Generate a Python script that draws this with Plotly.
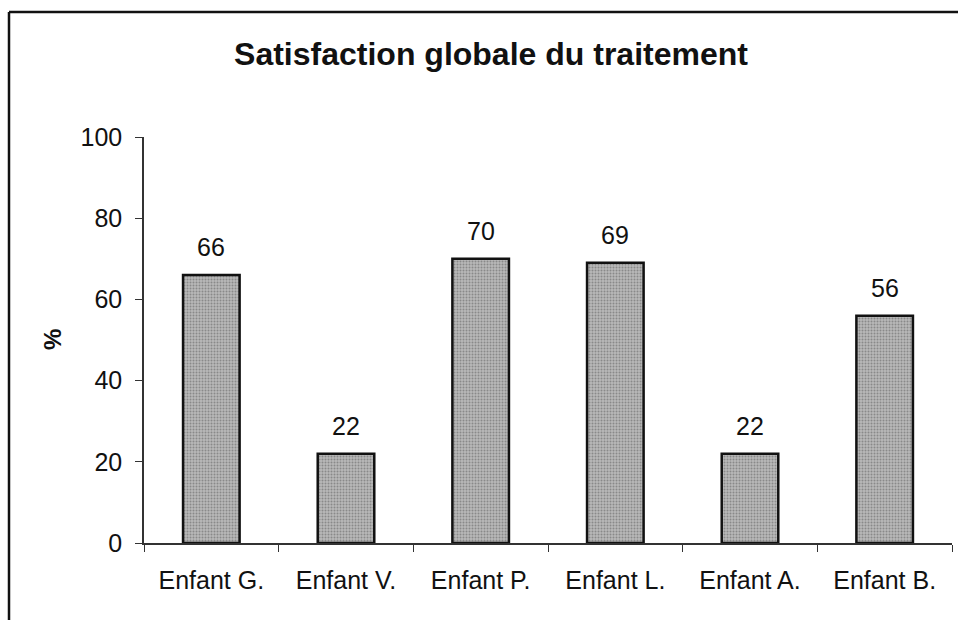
import plotly.graph_objects as go

# Satisfaction scores per child (%)
enfants = ["Enfant G.", "Enfant V.", "Enfant P.", "Enfant L.", "Enfant A.", "Enfant B."]
satisfaction = [66, 22, 70, 69, 22, 56]
y_ticks = [0, 20, 40, 60, 80, 100]

W, H = 958, 620
ML, MR, MT, MB = 144, 6, 137, 77
PW, PH = W - ML - MR, H - MT - MB

FONT = "Liberation Sans, Arial, sans-serif"
INK = "#111111"

fig = go.Figure(
    go.Bar(
        x=enfants,
        y=satisfaction,
        width=0.42,
        marker=dict(
            color="#a4a4a4",
            line=dict(color=INK, width=2.5),
            pattern=dict(shape=".", fgcolor="#5a5a5a", bgcolor="#b8b8b8", size=3, solidity=0.35),
        ),
        hoverinfo="skip",
    )
)

# Value labels above each bar
for name, val in zip(enfants, satisfaction):
    fig.add_annotation(
        x=name, y=val, text=str(val), showarrow=False,
        xanchor="center", yanchor="bottom", yshift=12,
        font=dict(family=FONT, size=25, color=INK),
    )


def px_x(px):
    return (px - ML) / PW


def px_y(py):
    return (H - MB - py) / PH


# Frame lines around the chart area (left and top edges)
fig.add_shape(type="line", xref="paper", yref="paper",
              x0=px_x(9), x1=px_x(9), y0=px_y(12), y1=px_y(620),
              line=dict(color=INK, width=2.5))
fig.add_shape(type="line", xref="paper", yref="paper",
              x0=px_x(9), x1=px_x(958), y0=px_y(12), y1=px_y(12),
              line=dict(color=INK, width=2.5))

# Rotated y-axis title
fig.add_annotation(
    xref="paper", yref="paper", x=px_x(52), y=0.5, text="<b>%</b>",
    textangle=-90, showarrow=False, xanchor="center", yanchor="middle",
    font=dict(family=FONT, size=24, color=INK),
)

fig.update_layout(
    width=W,
    height=H,
    margin=dict(l=ML, r=MR, t=MT, b=MB),
    paper_bgcolor="white",
    plot_bgcolor="white",
    showlegend=False,
    font=dict(family=FONT, color=INK),
    title=dict(
        text="<b>Satisfaction globale du traitement</b>",
        font=dict(family=FONT, size=32, color=INK),
        x=491 / W,
        xanchor="center",
        y=1 - 54 / H,
        yanchor="middle",
    ),
    xaxis=dict(
        showgrid=False,
        showline=True,
        linecolor="#333333",
        linewidth=1.5,
        ticks="outside",
        tickson="boundaries",
        ticklen=7,
        tickcolor="#333333",
        ticklabelstandoff=14,
        tickfont=dict(family=FONT, size=25, color=INK),
        fixedrange=True,
    ),
    yaxis=dict(
        range=[0, 100],
        tickvals=y_ticks,
        showgrid=False,
        zeroline=False,
        showline=True,
        linecolor="#333333",
        linewidth=1.5,
        ticks="outside",
        ticklen=7,
        tickcolor="#333333",
        ticklabelstandoff=8,
        tickfont=dict(family=FONT, size=25, color=INK),
        fixedrange=True,
    ),
)

fig.write_html("out.html")
